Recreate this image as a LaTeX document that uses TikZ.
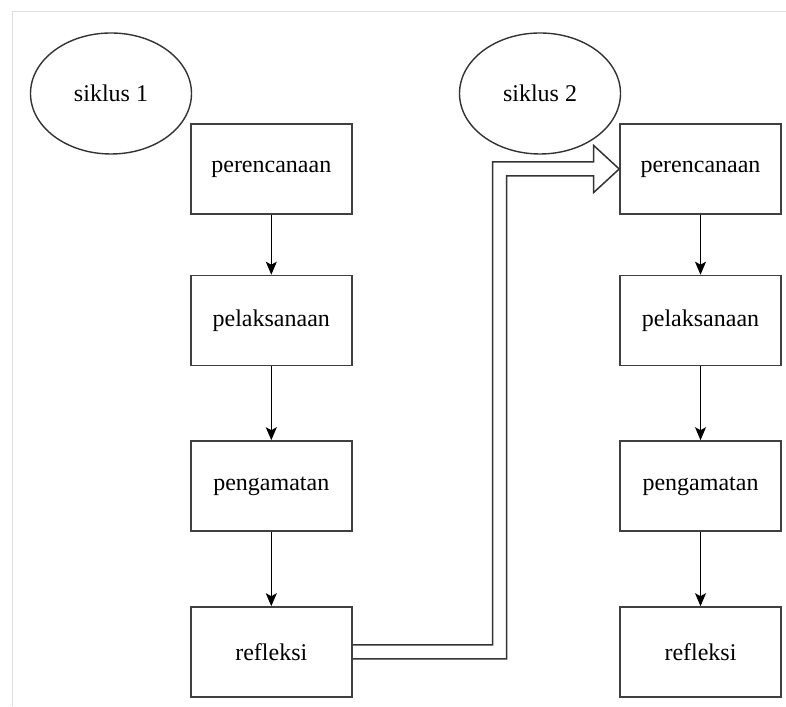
\documentclass[tikz,border=0pt]{standalone}
\usepackage{fontspec}
\setmainfont{Liberation Serif}
\usetikzlibrary{calc,shapes.geometric,arrows.meta}

\tikzset{
  tahap/.style={draw=black!75, line width=1.6pt, minimum width=161pt, minimum height=90pt, inner sep=0pt},
  siklus/.style={ellipse, draw=black!80, line width=1.4pt, minimum width=161pt, minimum height=121pt, inner sep=0pt},
  alur/.style={line width=1.1pt, -{Stealth[length=13pt,width=11pt,inset=3pt]}},
  hollow/.style={draw=black!80, line width=1.5pt, line join=miter}
}

\begin{document}
\begin{tikzpicture}[x=1pt,y=1pt,font=\fontsize{24}{28}\selectfont]
\useasboundingbox (0,0) rectangle (786,706);
\draw[gray!25, line width=1pt] (12,0) -- (12,694) -- (786,694);

\node[siklus] (s1) at (111,612.5) {siklus 1};
\node[siklus] (s2) at (540,612.5) {siklus 2};

% siklus 1
\node[tahap] (p1) at (271.3,537) {perencanaan};
\node[tahap] (l1) at (271.3,385.5) {pelaksanaan};
\node[tahap] (g1) at (271.3,220) {pengamatan};
\node[tahap] (r1) at (271.3,54) {refleksi};
\draw[alur] (p1) -- (l1);
\draw[alur] (l1) -- (g1);
\draw[alur] (g1) -- (r1);

% siklus 2
\node[tahap] (p2) at (700.5,537) {perencanaan};
\node[tahap] (l2) at (700.5,385.5) {pelaksanaan};
\node[tahap] (g2) at (700.5,220) {pengamatan};
\node[tahap] (r2) at (700.5,54) {refleksi};
\draw[alur] (p2) -- (l2);
\draw[alur] (l2) -- (g2);
\draw[alur] (g2) -- (r2);

% panah dari refleksi ke siklus 2
\coordinate (mid) at (499.5,0);
\draw[hollow] ($(r1.east)+(0,7)$) -| ($(mid |- p2.west)+(-7,7)$) -- ($(p2.west)+(-25.5,7)$) -- ($(p2.west)+(-25.5,23.5)$) -- (p2.west) -- ($(p2.west)+(-25.5,-23.5)$) -- ($(p2.west)+(-25.5,-7)$) -| ($(mid |- r1.east)+(7,-7)$) -- ($(r1.east)+(0,-7)$);
\end{tikzpicture}
\end{document}
